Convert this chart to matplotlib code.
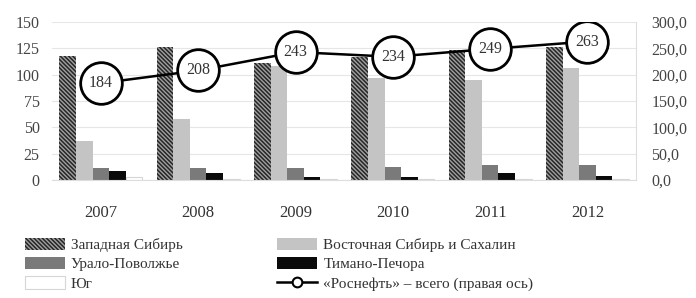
import numpy as np
import matplotlib
matplotlib.use("Agg")
import matplotlib.pyplot as plt
from matplotlib.lines import Line2D

plt.rcParams['font.family'] = ['Liberation Serif', 'DejaVu Serif']
plt.rcParams['hatch.linewidth'] = 1.1

# данные
years = ["2007", "2008", "2009", "2010", "2011", "2012"]
west_siberia = [118, 126, 111, 117, 123, 126]
east_siberia = [37, 58, 108, 97, 95, 106]
ural_volga = [11, 11, 11, 12, 14, 14]
timan_pechora = [9, 7, 2.5, 2.5, 7, 4]
south = [2.5, 1, 1, 1, 1, 1]
rosneft_total = [184, 208, 243, 234, 249, 263]

series_names = ["Западная Сибирь", "Восточная Сибирь и Сахалин", "Урало-Поволжье",
                "Тимано-Печора", "Юг"]
line_name = "«Роснефть» – всего (правая ось)"

fig = plt.figure(figsize=(6.96, 2.98), dpi=100)
ax = fig.add_axes([0.075, 0.396, 0.839, 0.530])

x = np.arange(len(years))
w = 0.17
styles = [
    dict(color="#a0a0a0", edgecolor="#262626", hatch="\\\\\\\\\\\\\\\\", linewidth=0),
    dict(color="#c4c4c4", edgecolor="#c4c4c4", linewidth=0),
    dict(color="#7a7a7a", edgecolor="#7a7a7a", linewidth=0),
    dict(color="#0a0a0a", edgecolor="#0a0a0a", linewidth=0),
    dict(color="white", edgecolor="#d6d6d6", linewidth=0.8),
]
data = [west_siberia, east_siberia, ural_volga, timan_pechora, south]
handles = []
for i, (vals, st) in enumerate(zip(data, styles)):
    b = ax.bar(x + (i - 2) * w, vals, w, label=series_names[i], zorder=2, **st)
    handles.append(b)

ax.set_ylim(0, 150)
ax.set_yticks(range(0, 151, 25))
ax.set_xlim(-0.5, len(years) - 0.5)
ax.set_xticks(x)
ax.set_xticklabels(years, fontsize=12)
ax.tick_params(axis='x', length=0, pad=18, colors="#333333")
ax.tick_params(axis='y', length=0, labelsize=11.5, colors="#444444", pad=9)
ax.grid(axis='y', color="#e6e6e6", linewidth=0.8, zorder=0)
for s in ["top", "left", "right"]:
    ax.spines[s].set_visible(False)
ax.spines["bottom"].set_color("#dddddd")

ax2 = ax.twinx()
ax2.set_ylim(0, 300)
ax2.set_yticks(range(0, 301, 50))
ax2.set_yticklabels([f"{v},0" for v in range(0, 301, 50)])
ax2.tick_params(axis='y', length=0, labelsize=11.5, colors="#444444", pad=11)
for s in ["top", "left", "bottom"]:
    ax2.spines[s].set_visible(False)
ax2.spines["right"].set_color("#dddddd")

ax2.plot(x, rosneft_total, color="black", linewidth=1.8, marker="o",
         markersize=30, markerfacecolor="white", markeredgecolor="black",
         markeredgewidth=2, zorder=3)
for xi, v in zip(x, rosneft_total):
    ax2.text(xi, v, str(v), ha="center", va="center", fontsize=11.5,
             color="#333333", zorder=4)

line_handle = Line2D([], [], color="black", linewidth=1.8, marker="o",
                     markersize=7, markerfacecolor="white", markeredgewidth=1.5)

leg_handles = [handles[0], handles[2], handles[4], handles[1], handles[3], line_handle]
leg_labels = [series_names[0], series_names[2], series_names[4],
              series_names[1], series_names[3], line_name]
fig.legend(leg_handles, leg_labels, ncol=2, loc="upper left",
           bbox_to_anchor=(0.036, 0.203), frameon=False, fontsize=11,
           handlelength=2.6, handleheight=0.85, labelspacing=0.33,
           columnspacing=6.2, handletextpad=0.4, borderpad=0, borderaxespad=0,
           labelcolor="#333333")

fig.savefig("out.png", dpi=100)
